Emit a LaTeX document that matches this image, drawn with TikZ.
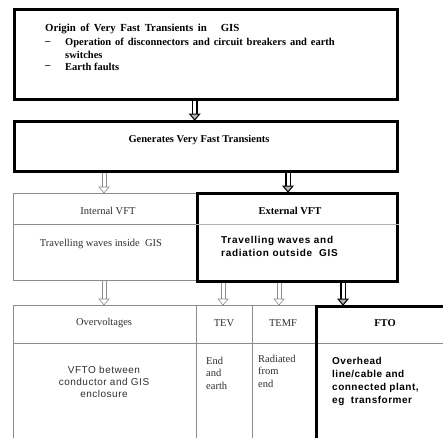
\documentclass[tikz,border=0pt]{standalone}
\usepackage{fontspec}
\setmainfont{Liberation Serif}
\newfontfamily\arialf{Liberation Sans}
\usetikzlibrary{calc}
\colorlet{gridgray}{black!45}
\colorlet{txtgray}{black!82}
\newcommand\mywidesp{\spaceskip=3.9pt plus 1pt\relax}
\newcommand\mywidersp{\spaceskip=4.6pt plus 1pt\relax}
\newcommand\myholarrow[3]{%
  \draw[holline] ($(#1 |- #2.south)+(-2.2,0)$) -- ($(#1 |- #3.north)+(-2.2,-6)$);
  \draw[holline] ($(#1 |- #2.south)+(2.2,0)$) -- ($(#1 |- #3.north)+(2.2,-6)$);
  \draw[holline, fill=white] ($(#1 |- #3.north)+(-5,-6)$) -- (#1 |- #3.north) -- ($(#1 |- #3.north)+(5,-6)$) -- cycle;}
\newcommand\mydblarrow[3]{%
  \draw[dblline] ($(#1 |- #2.south)+(-2.2,0)$) -- ($(#1 |- #3.north)+(-2.2,-6)$);
  \draw[dblline] ($(#1 |- #2.south)+(2.2,0)$) -- ($(#1 |- #3.north)+(2.2,-6)$);
  \draw[dblhead] ($(#1 |- #3.north)+(-5,-6)$) -- (#1 |- #3.north) -- ($(#1 |- #3.north)+(5,-6)$) -- cycle;}
\begin{document}
\begin{tikzpicture}[x=1pt,y=-1pt,
  thickbox/.style={draw=black, line width=3pt, anchor=north west, inner sep=0pt},
  cell/.style={draw=gridgray, line width=0.8pt, anchor=north west, inner sep=0pt},
  holline/.style={draw=gridgray, line width=0.6pt},
  dblline/.style={draw=black, line width=1.4pt},
  dblhead/.style={draw=black, line width=1pt, fill=black!30},
  txt/.style={inner sep=0pt, font=\fontsize{10.5}{12.5}\selectfont, text=txtgray},
  btxt/.style={inner sep=0pt, font=\bfseries\fontsize{10.5}{12.5}\selectfont, text=black},
  stxt/.style={inner sep=0pt, align=left, anchor=north west, text=black,
    font=\arialf\bfseries\addfontfeature{LetterSpace=7}\fontsize{10}{13}\selectfont},
  ftxt/.style={inner sep=0pt, align=left, anchor=north west, text=black,
    font=\arialf\bfseries\addfontfeature{LetterSpace=5}\fontsize{10}{13}\selectfont},
  srtxt/.style={inner sep=0pt, align=center, text=txtgray,
    font=\arialf\addfontfeature{LetterSpace=5}\fontsize{10}{12}\selectfont},
]
\useasboundingbox (0,0) rectangle (443,437);
\clip (0,0) rectangle (443,437);

% boxes
\node[thickbox, minimum width=383pt, minimum height=90pt] (top) at (13,8) {};
\node[thickbox, minimum width=383pt, minimum height=50pt] (gen) at (13,120) {};
\node[cell, minimum width=183pt, minimum height=87pt] (int) at (13,193) {};
\node[thickbox, minimum width=200pt, minimum height=88pt] (ext) at (196,192) {};
\coordinate (dv) at (0,224);
\draw[gridgray, line width=0.8pt] (int.west |- dv) -- (int.east |- dv);
\draw[black!30, line width=0.8pt] (ext.west |- dv) -- (ext.east |- dv);

% bottom table
\node[cell, minimum width=183pt, minimum height=38pt] (ovh) at (13,305) {};
\node[cell, minimum width=183pt, minimum height=110pt] (ovb) at (13,343) {};
\node[cell, minimum width=56pt, minimum height=38pt] (tevh) at (196,305) {};
\node[cell, minimum width=56pt, minimum height=110pt] (tevb) at (196,343) {};
\node[cell, minimum width=63pt, minimum height=38pt] (temfh) at (252,305) {};
\node[cell, minimum width=63pt, minimum height=110pt] (temfb) at (252,343) {};
\node[cell, minimum width=140pt, minimum height=38pt] (ftoh) at (315,305) {};
\node[thickbox, minimum width=140pt, minimum height=140pt] (fto) at (315,305) {};

% texts top
\node[btxt, anchor=west] (orig) at (45,29) {\fontsize{10.8}{12.5}\selectfont\mywidersp Origin of Very Fast Transients in\hspace{14pt}GIS};
\node[btxt, anchor=west] (d1) at (45,43) {--};
\node[btxt, anchor=west] (l1a) at (65,43) {\mywidesp Operation of disconnectors and circuit breakers and earth};
\node[btxt, anchor=west] (l1b) at (65,55) {switches};
\node[btxt, anchor=west] (d2) at (45,67) {--};
\node[btxt, anchor=west] (l2) at (65,67) {Earth faults};
\node[btxt] (gent) at (199,140) {Generates Very Fast Transients};

% middle texts
\node[txt] (intt) at (108,211) {Internal VFT};
\node[txt] (intb) at (101,244) {Travelling waves inside\ \ GIS};
\node[btxt] (extt) at (290,211) {External VFT};
\node[stxt] (extb) at (221,236) {Travelling waves and\\radiation outside\ \ GIS};

% bottom texts
\node[txt] (ovt) at (104,323) {Overvoltages};
\node[txt] (tevt) at (224,323) {TEV};
\node[txt] (temft) at (283,323) {TEMF};
\node[btxt] (ftot) at (385,323) {FTO};
\node[srtxt, anchor=north] (vfto) at (104,366) {VFTO between\\conductor and GIS\\enclosure};
\node[txt, align=left, anchor=north west] (endt) at (206,357) {End\\and\\earth};
\node[txt, align=left, anchor=north west] (radt) at (258,355) {Radiated\\from\\end};
\node[ftxt] (ovht) at (332,357) {Overhead\\line/cable and\\connected plant,\\eg\ \ transformer};

% arrows
\coordinate (xa) at (194.7,0);
\coordinate (xb) at (104,0);
\coordinate (xc) at (288,0);
\coordinate (xd) at (223,0);
\coordinate (xe) at (279,0);
\coordinate (xf) at (343,0);
\mydblarrow{xa}{top}{gen}
\myholarrow{xb}{gen}{int}
\mydblarrow{xc}{gen}{ext}
\myholarrow{xb}{int}{ovh}
\myholarrow{xd}{ext}{tevh}
\myholarrow{xe}{ext}{temfh}
\mydblarrow{xf}{ext}{fto}
\end{tikzpicture}
\end{document}
